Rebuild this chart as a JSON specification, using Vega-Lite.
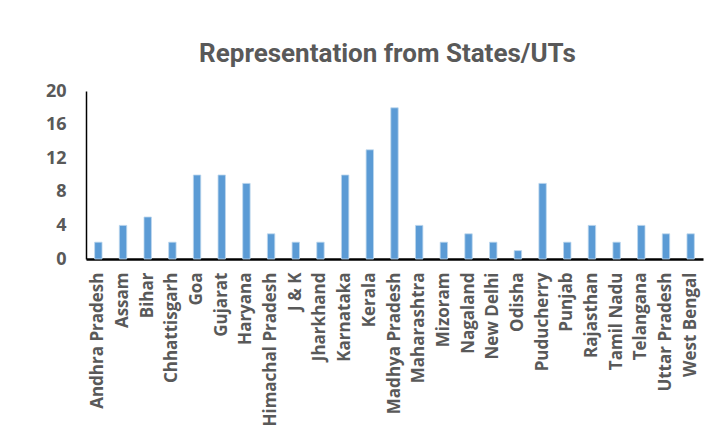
{
  "$schema": "https://vega.github.io/schema/vega-lite/v6.json",
  "width": 617,
  "height": 168,
  "autosize": {"type": "none"},
  "padding": {"left": 86, "top": 91, "right": 22, "bottom": 185},
  "background": "#ffffff",
  "title": {
    "text": "Representation from States/UTs",
    "font": "Roboto",
    "fontSize": 26,
    "fontWeight": "bold",
    "color": "#595959",
    "anchor": "middle",
    "offset": 15,
    "dx": -7
  },
  "data": {
    "values": [
      {"state": "Andhra Pradesh", "count": 2},
      {"state": "Assam", "count": 4},
      {"state": "Bihar", "count": 5},
      {"state": "Chhattisgarh", "count": 2},
      {"state": "Goa", "count": 10},
      {"state": "Gujarat", "count": 10},
      {"state": "Haryana", "count": 9},
      {"state": "Himachal Pradesh", "count": 3},
      {"state": "J & K", "count": 2},
      {"state": "Jharkhand", "count": 2},
      {"state": "Karnataka", "count": 10},
      {"state": "Kerala", "count": 13},
      {"state": "Madhya Pradesh", "count": 18},
      {"state": "Maharashtra", "count": 4},
      {"state": "Mizoram", "count": 2},
      {"state": "Nagaland", "count": 3},
      {"state": "New Delhi", "count": 2},
      {"state": "Odisha", "count": 1},
      {"state": "Puducherry", "count": 9},
      {"state": "Punjab", "count": 2},
      {"state": "Rajasthan", "count": 4},
      {"state": "Tamil Nadu", "count": 2},
      {"state": "Telangana", "count": 4},
      {"state": "Uttar Pradesh", "count": 3},
      {"state": "West Bengal", "count": 3}
    ]
  },
  "mark": {"type": "bar", "color": "#5B9BD5", "stroke": "#BDD7EE", "strokeWidth": 0.8},
  "encoding": {
    "x": {
      "field": "state",
      "type": "nominal",
      "sort": null,
      "scale": {"paddingInner": 0.7, "paddingOuter": 0.35},
      "axis": {
        "title": null,
        "labelAngle": -90,
        "labelAlign": "right",
        "labelBaseline": "middle",
        "labelFont": "Open Sans",
        "labelFontSize": 17,
        "labelFontWeight": "bold",
        "labelColor": "#595959",
        "labelPadding": 13,
        "ticks": false,
        "domainColor": "#000000",
        "domainWidth": 2.5,
        "labelLimit": 300
      }
    },
    "y": {
      "field": "count",
      "type": "quantitative",
      "scale": {"domain": [0, 20], "nice": false},
      "axis": {
        "title": null,
        "values": [0, 4, 8, 12, 16, 20],
        "grid": false,
        "ticks": false,
        "labelFont": "Open Sans",
        "labelFontSize": 18,
        "labelFontWeight": "bold",
        "labelColor": "#595959",
        "labelPadding": 20,
        "domainColor": "#000000",
        "domainWidth": 1.5
      }
    }
  },
  "config": {"view": {"stroke": null}}
}
